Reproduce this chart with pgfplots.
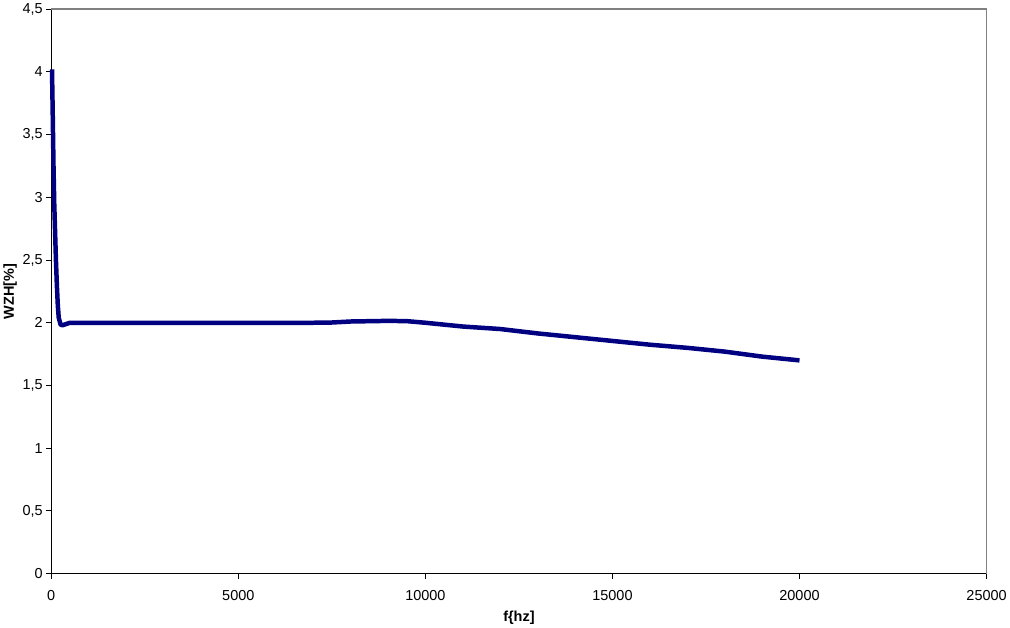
\documentclass[border=0pt]{standalone}
\usepackage{fontspec}
\setmainfont{Liberation Sans}
\usepackage{pgfplots}
\pgfplotsset{compat=1.18}
\definecolor{linenavy}{RGB}{0,0,128}
\begin{document}
\begin{tikzpicture}
\begin{axis}[
    scale only axis,
    width=938pt, height=566pt,
    xmin=0, xmax=25000, ymin=0, ymax=4.5,
    xtick distance=5000, ytick distance=0.5,
    tick align=outside,
    major tick length=5pt,
    tick style={black, line width=1pt},
    axis line style={black, line width=1.2pt},
    axis x line*=bottom, axis y line*=left,
    font=\fontsize{14.5}{17}\selectfont,
    /pgf/number format/assume math mode=true,
    /pgf/number format/use comma,
    /pgf/number format/1000 sep={},
    scaled x ticks=false,
    xticklabel style={yshift=-8pt},
    yticklabel style={xshift=0pt},
    xlabel={\textbf{f\{hz]}}, ylabel={\textbf{WZH[\%]}},
    xlabel style={yshift=-4pt},
    ylabel style={yshift=-1pt},
    clip=false,
]
\addplot[linenavy, line width=4.5pt, line join=round] coordinates {
(20,4.02) (40,3.65) (60,3.25) (80,2.95) (100,2.75) (125,2.5) (150,2.3) (175,2.14)
(200,2.04) (250,1.985) (300,1.98) (400,1.99) (500,2.0) (1000,2.0) (2000,2.0)
(3000,2.0) (4000,2.0) (5000,2.0) (6000,2.0) (7000,2.0) (7500,2.002) (8000,2.01)
(9000,2.015) (9500,2.013) (10000,2.0) (11000,1.97) (12000,1.95) (13000,1.915)
(14000,1.885) (15000,1.855) (16000,1.825) (17000,1.80) (18000,1.77) (19000,1.73)
(20000,1.70)};
\draw[gray, line width=1.5pt] (rel axis cs:0,1) -- (rel axis cs:1,1) -- (rel axis cs:1,0);
\end{axis}
\end{tikzpicture}
\end{document}
